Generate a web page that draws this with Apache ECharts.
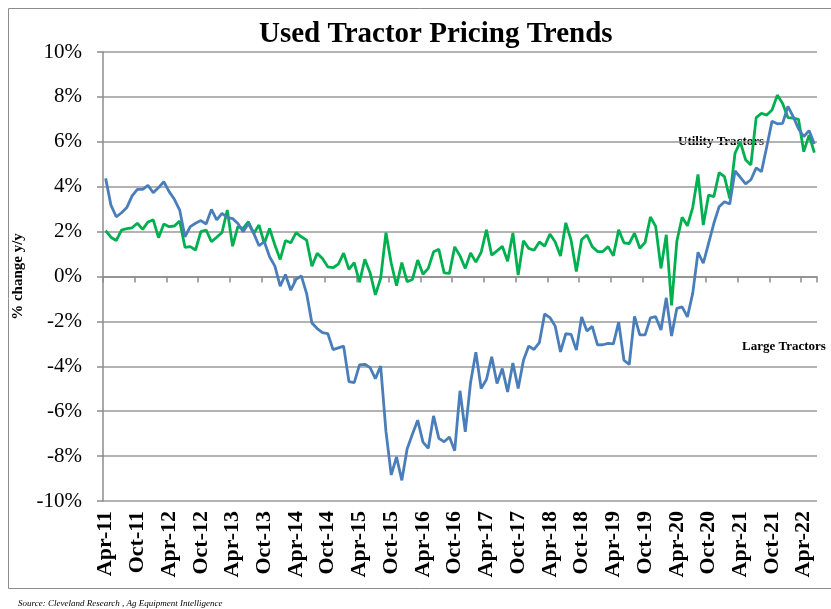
<!DOCTYPE html>
<html>
<head>
  <meta charset="UTF-8">
  <title>Used Tractor Pricing Trends</title>
  <script src="https://cdn.jsdelivr.net/npm/echarts@6/dist/echarts.min.js"></script>
  <style>
    html, body { margin: 0; padding: 0; background: #fff; }
    #main { width: 831px; height: 609px; }
  </style>
</head>
<body>
<div id="main"></div>
<script type="text/javascript">
  // monthly, Apr-11 .. Jun-22
  var monthNames = ['Jan', 'Feb', 'Mar', 'Apr', 'May', 'Jun', 'Jul', 'Aug', 'Sep', 'Oct', 'Nov', 'Dec'];
  var months = [];
  for (var y = 2011; y <= 2022; y++) {
    for (var m = 0; m < 12; m++) {
      if (y === 2011 && m < 3) continue;
      if (y === 2022 && m > 5) continue;
      months.push(monthNames[m] + '-' + String(y).substr(2));
    }
  }

  var largeTractors = [
    4.37, 3.18, 2.66, 2.84, 3.07, 3.59, 3.88, 3.88, 4.06, 3.73, 3.96, 4.22,
    3.78, 3.44, 2.96, 1.77, 2.22, 2.37, 2.49, 2.34, 2.99, 2.52, 2.81, 2.63,
    2.58, 2.36, 1.99, 2.36, 1.92, 1.37, 1.55, 0.88, 0.46, -0.43, 0.09, -0.61,
    -0.13, 0.03, -0.76, -2.07, -2.32, -2.5, -2.54, -3.26, -3.18, -3.1, -4.68, -4.73,
    -3.94, -3.91, -4.06, -4.55, -3.99, -6.9, -8.84, -8.04, -9.08, -7.68, -7.03, -6.4,
    -7.38, -7.65, -6.21, -7.21, -7.36, -7.15, -7.76, -5.09, -6.92, -4.72, -3.37, -4.99,
    -4.59, -3.58, -4.77, -4.1, -5.14, -3.85, -4.99, -3.73, -3.1, -3.25, -2.95, -1.67,
    -1.83, -2.21, -3.36, -2.55, -2.58, -3.28, -1.8, -2.43, -2.22, -3.05, -3.04, -2.98,
    -3.0, -2.03, -3.73, -3.92, -1.78, -2.6, -2.6, -1.84, -1.79, -2.38, -0.95, -2.65,
    -1.42, -1.35, -1.8, -0.75, 1.08, 0.59, 1.48, 2.37, 3.11, 3.33, 3.23, 4.7,
    4.42, 4.13, 4.31, 4.84, 4.67, 5.78, 6.92, 6.8, 6.82, 7.58, 7.12, 6.58,
    6.23, 6.5, 5.9
  ];

  var utilityTractors = [
    2.04, 1.75, 1.6, 2.07, 2.13, 2.17, 2.37, 2.1, 2.43, 2.52, 1.73, 2.34,
    2.22, 2.25, 2.47, 1.3, 1.33, 1.18, 2.0, 2.07, 1.55, 1.75, 1.96, 2.96,
    1.35, 2.22, 2.14, 2.44, 1.92, 2.29, 1.47, 2.14, 1.4, 0.76, 1.6, 1.5,
    1.95, 1.77, 1.62, 0.46, 1.03, 0.8, 0.43, 0.39, 0.55, 1.04, 0.32, 0.62,
    -0.25, 0.77, 0.17, -0.82, -0.08, 1.95, 0.59, -0.41, 0.62, -0.23, -0.13, 0.73,
    0.1, 0.36, 1.1, 1.21, 0.16, 0.14, 1.32, 0.92, 0.36, 1.05, 0.64, 1.08,
    2.08, 0.95, 1.14, 1.35, 0.68, 1.94, 0.06, 1.59, 1.25, 1.17, 1.54, 1.35,
    1.89, 1.54, 0.91, 2.39, 1.62, 0.22, 1.65, 1.85, 1.33, 1.11, 1.11, 1.33,
    0.92, 2.08, 1.5, 1.47, 1.93, 1.26, 1.52, 2.65, 2.23, 0.36, 1.86, -1.29,
    1.57, 2.64, 2.26, 3.07, 4.55, 2.29, 3.63, 3.56, 4.63, 4.45, 3.48, 5.49,
    6.0, 5.2, 4.97, 7.08, 7.27, 7.19, 7.42, 8.08, 7.71, 7.08, 7.05, 7.0,
    5.56, 6.3, 5.52
  ];

  var serif = '"Liberation Serif", "Times New Roman", serif';
  var myChart = echarts.init(document.getElementById('main'));

  var option = {
    animation: false,
    title: {
      text: 'Used Tractor Pricing Trends',
      left: 254,
      top: 15,
      textStyle: { fontFamily: serif, fontSize: 29, fontWeight: 'bold', color: '#000' }
    },
    graphic: [
      { type: 'rect', shape: { x: 8.5, y: 8.5, width: 840, height: 580 },
        style: { fill: 'none', stroke: '#8c8c8c', lineWidth: 1 }, silent: true },
      { type: 'text', left: 678, top: 135,
        style: { text: 'Utility Tractors', font: 'bold 13px ' + serif, fill: '#000' } },
      { type: 'text', left: 742, top: 340,
        style: { text: 'Large Tractors', font: 'bold 13px ' + serif, fill: '#000' } },
      { type: 'text', left: 18, top: 599,
        style: { text: 'Source: Cleveland Research , Ag Equipment Intelligence', font: 'italic 9px ' + serif, fill: '#000' } }
    ],
    grid: { left: 103, right: 14, top: 52, bottom: 108 },
    xAxis: [
      {
        type: 'category',
        data: months,
        boundaryGap: true,
        axisLine: { onZero: false, show: false },
        axisTick: { show: false },
        axisLabel: {
          interval: 5, rotate: 90, margin: 10,
          fontFamily: serif, fontSize: 22, fontWeight: 'bold', color: '#000'
        }
      },
      {
        type: 'category',
        data: months,
        boundaryGap: true,
        position: 'bottom',
        axisLine: { onZero: true, lineStyle: { color: '#8c8c8c', width: 1.5 } },
        axisTick: { show: true, interval: 5, length: 6, inside: false, lineStyle: { color: '#8c8c8c', width: 1.5 } },
        axisLabel: { show: false },
        splitLine: { show: false }
      }
    ],
    yAxis: {
      type: 'value',
      min: -10,
      max: 10,
      interval: 2,
      name: '% change y/y',
      nameLocation: 'middle',
      nameRotate: 90,
      nameGap: 77,
      nameTextStyle: { fontFamily: serif, fontSize: 15, fontWeight: 'bold', color: '#000' },
      axisLine: { show: true, lineStyle: { color: '#8c8c8c', width: 1.5 } },
      axisTick: { show: true, length: 6, lineStyle: { color: '#8c8c8c', width: 1.5 } },
      axisLabel: {
        margin: 21,
        formatter: function (v) { return v + '%'; },
        fontFamily: serif, fontSize: 21, color: '#000'
      },
      splitLine: { lineStyle: { color: '#9a9a9a', width: 1.5 } }
    },
    series: [
      {
        name: 'Large Tractors',
        type: 'line',
        xAxisIndex: 0,
        data: largeTractors,
        symbol: 'none',
        lineStyle: { color: '#4a7ebb', width: 2.8 },
        itemStyle: { color: '#4a7ebb' },
        z: 3
      },
      {
        name: 'Utility Tractors',
        type: 'line',
        xAxisIndex: 0,
        data: utilityTractors,
        symbol: 'none',
        lineStyle: { color: '#00b050', width: 2.8 },
        itemStyle: { color: '#00b050' },
        z: 2
      }
    ]
  };

  myChart.setOption(option);
</script>
</body>
</html>
